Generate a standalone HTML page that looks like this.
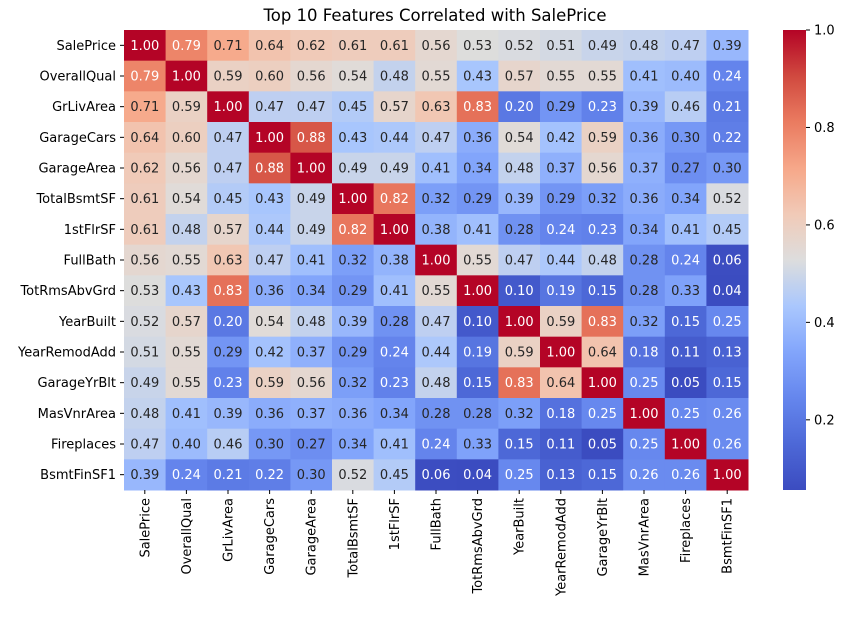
<!DOCTYPE html>
<html><head><meta charset="utf-8"><style>
body{margin:0;background:#fff;}
svg text{font-family:"DejaVu Sans","Liberation Sans",sans-serif;}
</style></head><body>
<svg id="chart" width="848" height="616" xmlns="http://www.w3.org/2000/svg">
<defs><linearGradient id="cbg" x1="0" y1="1" x2="0" y2="0"></linearGradient></defs>
<text x="435" y="21" text-anchor="middle" font-size="16.5" fill="#000">Top 10 Features Correlated with SalePrice</text>
<g id="cells"></g>
<g id="ylab"></g>
<g id="xlab"></g>
<rect x="783" y="30" width="23" height="460" fill="url(#cbg)"/>
<g id="cbticks"></g>
</svg>
<script>
const features = ["SalePrice","OverallQual","GrLivArea","GarageCars","GarageArea","TotalBsmtSF","1stFlrSF","FullBath","TotRmsAbvGrd","YearBuilt","YearRemodAdd","GarageYrBlt","MasVnrArea","Fireplaces","BsmtFinSF1"];
const corr = [
[1.00,0.79,0.71,0.64,0.62,0.61,0.61,0.56,0.53,0.52,0.51,0.49,0.48,0.47,0.39],
[0.79,1.00,0.59,0.60,0.56,0.54,0.48,0.55,0.43,0.57,0.55,0.55,0.41,0.40,0.24],
[0.71,0.59,1.00,0.47,0.47,0.45,0.57,0.63,0.83,0.20,0.29,0.23,0.39,0.46,0.21],
[0.64,0.60,0.47,1.00,0.88,0.43,0.44,0.47,0.36,0.54,0.42,0.59,0.36,0.30,0.22],
[0.62,0.56,0.47,0.88,1.00,0.49,0.49,0.41,0.34,0.48,0.37,0.56,0.37,0.27,0.30],
[0.61,0.54,0.45,0.43,0.49,1.00,0.82,0.32,0.29,0.39,0.29,0.32,0.36,0.34,0.52],
[0.61,0.48,0.57,0.44,0.49,0.82,1.00,0.38,0.41,0.28,0.24,0.23,0.34,0.41,0.45],
[0.56,0.55,0.63,0.47,0.41,0.32,0.38,1.00,0.55,0.47,0.44,0.48,0.28,0.24,0.06],
[0.53,0.43,0.83,0.36,0.34,0.29,0.41,0.55,1.00,0.10,0.19,0.15,0.28,0.33,0.04],
[0.52,0.57,0.20,0.54,0.48,0.39,0.28,0.47,0.10,1.00,0.59,0.83,0.32,0.15,0.25],
[0.51,0.55,0.29,0.42,0.37,0.29,0.24,0.44,0.19,0.59,1.00,0.64,0.18,0.11,0.13],
[0.49,0.55,0.23,0.59,0.56,0.32,0.23,0.48,0.15,0.83,0.64,1.00,0.25,0.05,0.15],
[0.48,0.41,0.39,0.36,0.37,0.36,0.34,0.28,0.28,0.32,0.18,0.25,1.00,0.25,0.26],
[0.47,0.40,0.46,0.30,0.27,0.34,0.41,0.24,0.33,0.15,0.11,0.05,0.25,1.00,0.26],
[0.39,0.24,0.21,0.22,0.30,0.52,0.45,0.06,0.04,0.25,0.13,0.15,0.26,0.26,1.00]];
const cbTicks = [0.2,0.4,0.6,0.8,1.0];
const vmin = 0.056, vmax = 1.0;

const NS="http://www.w3.org/2000/svg";
const L=124,T=30,W=624,H=460;
const cw=W/features.length, ch=H/features.length;
const cmap=[[0,[59,76,192]],[0.1,[77,104,215]],[0.2,[101,134,237]],[0.3,[130,165,251]],[0.4,[170,199,253]],[0.5,[221,221,221]],[0.6,[241,202,183]],[0.7,[246,167,137]],[0.8,[234,123,96]],[0.9,[208,73,63]],[1,[180,4,38]]];
function color(v){
  let t=Math.max(0,Math.min(1,(v-vmin)/(vmax-vmin)));
  for(let i=1;i<cmap.length;i++){ if(t<=cmap[i][0]){const a=cmap[i-1],b=cmap[i];const f=(t-a[0])/(b[0]-a[0]);return a[1].map((c,k)=>Math.round(c+(b[1][k]-c)*f));}}
  return cmap[cmap.length-1][1];
}
function textColor(v){ return (v<0.27||v>0.76)?'#fff':'#262626'; }
const xs=i=>L+i*cw, ys=j=>T+j*ch;
const cells=document.getElementById('cells');
corr.forEach((row,j)=>row.forEach((v,i)=>{
  const c=color(v);
  const r=document.createElementNS(NS,'rect');
  r.setAttribute('x',xs(i));r.setAttribute('y',ys(j));r.setAttribute('width',cw+0.5);r.setAttribute('height',ch+0.5);
  r.setAttribute('fill',`rgb(${c})`);
  
  
  cells.appendChild(r);
  const t=document.createElementNS(NS,'text');
  t.setAttribute('x',xs(i)+cw/2);t.setAttribute('y',ys(j)+ch/2+4.5);t.setAttribute('text-anchor','middle');t.setAttribute('font-size','13');
  t.setAttribute('fill',textColor(v));
  t.textContent=v.toFixed(2);
  
  
  cells.appendChild(t);
}));
const yl=document.getElementById('ylab'), xl=document.getElementById('xlab');
features.forEach((f,k)=>{
  const t=document.createElementNS(NS,'text');
  t.setAttribute('x',L-8);t.setAttribute('y',ys(k)+ch/2+4.5);t.setAttribute('text-anchor','end');t.setAttribute('font-size','13');
  t.textContent=f;
  
  
  yl.appendChild(t);
  const tk=document.createElementNS(NS,'line');
  tk.setAttribute('x1',L-4);tk.setAttribute('x2',L);tk.setAttribute('y1',ys(k)+ch/2);tk.setAttribute('y2',ys(k)+ch/2);tk.setAttribute('stroke','#000');
  
  
  yl.appendChild(tk);
  const x=xs(k)+cw/2;
  const t2=document.createElementNS(NS,'text');
  t2.setAttribute('transform',`translate(${x+4.5},${T+H+8}) rotate(-90)`);t2.setAttribute('text-anchor','end');t2.setAttribute('font-size','13');
  t2.textContent=f;
  
  
  xl.appendChild(t2);
  const tk2=document.createElementNS(NS,'line');
  tk2.setAttribute('x1',x);tk2.setAttribute('x2',x);tk2.setAttribute('y1',T+H);tk2.setAttribute('y2',T+H+4);tk2.setAttribute('stroke','#000');
  
  
  xl.appendChild(tk2);
});
const g=document.getElementById('cbg');
for(let s=0;s<=40;s++){const v=vmin+(vmax-vmin)*s/40;const st=document.createElementNS(NS,'stop');st.setAttribute('offset',s/40);st.setAttribute('stop-color',`rgb(${color(v)})`);g.appendChild(st);}
const cb=document.getElementById('cbticks');
const cy=v=>490-(v-vmin)/(vmax-vmin)*460;
cbTicks.forEach(v=>{
  const l=document.createElementNS(NS,'line');
  l.setAttribute('x1',806);l.setAttribute('x2',810);l.setAttribute('y1',cy(v));l.setAttribute('y2',cy(v));l.setAttribute('stroke','#000');
  
  
  cb.appendChild(l);
  const t=document.createElementNS(NS,'text');
  t.setAttribute('x',814);t.setAttribute('y',cy(v)+4.5);t.setAttribute('font-size','13');
  t.textContent=v.toFixed(1);
  
  
  cb.appendChild(t);
});
</script>
</body></html>
